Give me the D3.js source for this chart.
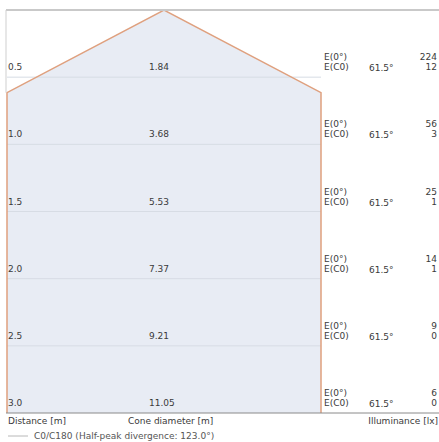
<!DOCTYPE html>
<html><head><meta charset="utf-8">
<script src="https://cdn.jsdelivr.net/npm/d3@7"></script>
<style>
html,body{margin:0;padding:0;background:#fff;}
svg{display:block;font-family:"DejaVu Sans",Verdana,sans-serif;}
</style></head>
<body>
<script>
const distances = [0.5, 1.0, 1.5, 2.0, 2.5, 3.0];
const coneDiameters = ["1.84", "3.68", "5.53", "7.37", "9.21", "11.05"];
const illumCenter = [224, 56, 25, 14, 9, 6];
const illumC0 = [12, 3, 1, 1, 0, 0];
const halfAngle = 61.5;
const axisLabels = ["Distance [m]", "Cone diameter [m]", "Illuminance [lx]"];
const legendLabel = "C0/C180 (Half-peak divergence: 123.0°)";

(function () {
const W = 439, H = 442;
const svg = d3.select("body").append("svg").attr("width", W).attr("height", H);

const pTop = 10, pBottom = 413, pLeft = 7, pRight = 321;
const y = d3.scaleLinear().domain([0, 3]).range([pTop, pBottom]);
const pxPerM = (pBottom - pTop) / 3;
const halfW = (pRight - pLeft) / 2 / pxPerM;
const x = d3.scaleLinear().domain([-halfW, halfW]).range([pLeft, pRight]);

const t = Math.tan(halfAngle * Math.PI / 180);
const dCorner = halfW / t * 0.97;
const poly = [[0, 0], [halfW, dCorner], [halfW, 3], [-halfW, 3], [-halfW, dCorner]];
const line = d3.line().x(d => x(d[0])).y(d => y(d[1]));

svg.append("path").attr("d", line(poly) + "Z")
  .attr("fill", "#e8ecf4").attr("stroke", "none");

svg.selectAll("line.grid").data(distances.slice(0, -1)).join("line")
  .attr("x1", x(-halfW)).attr("x2", x(halfW))
  .attr("y1", d => y(d)).attr("y2", d => y(d))
  .attr("stroke", "#d7dce4").attr("stroke-width", 1);

svg.append("path").attr("d", line([[-halfW, 3], [-halfW, dCorner], [0, 0], [halfW, dCorner], [halfW, 3]]))
  .attr("fill", "none").attr("stroke", "#dfa07e").attr("stroke-width", 1.5);

svg.append("line").attr("x1", 6).attr("x2", W).attr("y1", pTop).attr("y2", pTop)
  .attr("stroke", "#c9c9c9").attr("stroke-width", 2);
svg.append("line").attr("x1", 6).attr("x2", 6).attr("y1", pTop).attr("y2", y(dCorner))
  .attr("stroke", "#cfcfcf").attr("stroke-width", 1);
svg.append("line").attr("x1", 6).attr("x2", W).attr("y1", pBottom).attr("y2", pBottom)
  .attr("stroke", "#8a8a8a").attr("stroke-width", 1);

const fs = 9, col = "#3a3a3a";
const rows = svg.selectAll("g.row").data(distances).join("g")
  .attr("transform", d => `translate(0,${y(d) - 7})`);

rows.append("text").attr("x", 8).attr("y", 0).text(d => d.toFixed(1))
  .attr("font-size", fs).attr("fill", col);
rows.append("text").attr("x", 149).attr("y", 0).text((d, i) => coneDiameters[i])
  .attr("font-size", fs).attr("fill", col);
rows.append("text").attr("x", 324).attr("y", -10).text("E(0°)")
  .attr("font-size", fs).attr("fill", col);
rows.append("text").attr("x", 324).attr("y", 0).text("E(C0)")
  .attr("font-size", fs).attr("fill", col);
rows.append("text").attr("x", 369).attr("y", 1).text(halfAngle.toFixed(1) + "°")
  .attr("font-size", fs).attr("fill", col);
rows.append("text").attr("x", 437).attr("y", -10).attr("text-anchor", "end")
  .text((d, i) => illumCenter[i]).attr("font-size", fs).attr("fill", col);
rows.append("text").attr("x", 437).attr("y", 0).attr("text-anchor", "end")
  .text((d, i) => illumC0[i]).attr("font-size", fs).attr("fill", col);

svg.append("text").attr("x", 8).attr("y", 424).text(axisLabels[0])
  .attr("font-size", fs).attr("fill", col);
svg.append("text").attr("x", 128).attr("y", 424).text(axisLabels[1])
  .attr("font-size", fs).attr("fill", col);
svg.append("text").attr("x", 438).attr("y", 424).attr("text-anchor", "end").text(axisLabels[2])
  .attr("font-size", fs).attr("fill", col);

svg.append("line").attr("x1", 8).attr("x2", 28).attr("y1", 436).attr("y2", 436)
  .attr("stroke", "#b8b8b8").attr("stroke-width", 1);
svg.append("text").attr("x", 34).attr("y", 439).text(legendLabel)
  .attr("font-size", fs).attr("fill", "#555");
})();
</script>
</body></html>
